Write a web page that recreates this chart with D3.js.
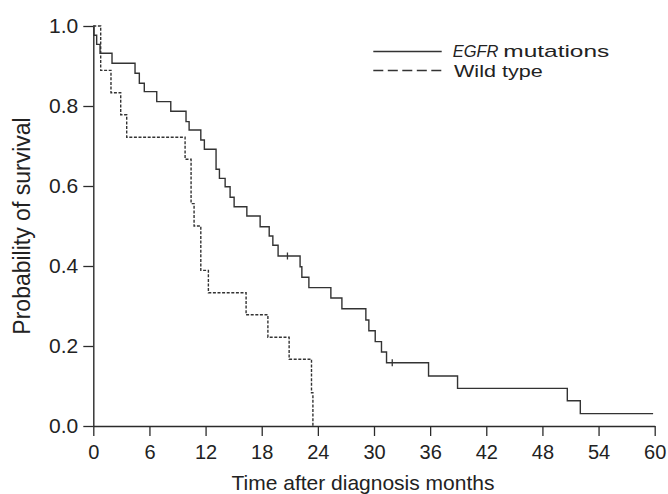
<!DOCTYPE html>
<html>
<head>
<meta charset="utf-8">
<script src="https://cdn.jsdelivr.net/npm/d3@7"></script>
<style>
  html, body { margin: 0; padding: 0; background: #fff; }
  svg { display: block; }
  text { font-family: "Liberation Sans", Arial, Helvetica, sans-serif; fill: #222; }
</style>
</head>
<body>
<svg id="chart" width="668" height="494"></svg>
<script>
// ---- data ----
const xTicks = [0, 6, 12, 18, 24, 30, 36, 42, 48, 54, 60];
const yTicks = [0, 0.2, 0.4, 0.6, 0.8, 1.0];

const egfrTimes = [0, 0.07, 0.36, 0.72, 2.0, 4.46, 4.92, 5.45, 6.78, 8.28, 9.91, 10.24, 11.49, 11.87, 13.12, 13.48, 14.09, 14.62, 15.05, 16.41, 17.83, 18.8, 19.19, 19.75, 22.1, 22.29, 23.04, 25.39, 26.57, 29.13, 29.45, 30.13, 30.8, 31.34, 35.83, 38.93, 50.66, 52.05, 59.83];
const egfrSurv  = [1.0, 0.977, 0.954, 0.932, 0.907, 0.882, 0.857, 0.836, 0.811, 0.787, 0.761, 0.74, 0.715, 0.692, 0.642, 0.619, 0.598, 0.572, 0.548, 0.525, 0.498, 0.475, 0.452, 0.425, 0.398, 0.372, 0.346, 0.32, 0.293, 0.265, 0.238, 0.211, 0.185, 0.158, 0.125, 0.094, 0.063, 0.031, 0.031];
const egfrCensorTimes = [20.75, 31.95];
const egfrCensorSurv  = [0.425, 0.158];

const wildTimes = [0, 0.79, 1.89, 2.93, 3.57, 9.81, 10.45, 10.77, 11.49, 12.3, 16.33, 18.66, 20.93, 23.32, 23.47];
const wildSurv  = [1.0, 0.889, 0.833, 0.778, 0.722, 0.667, 0.556, 0.5, 0.389, 0.333, 0.278, 0.222, 0.167, 0.083, 0];

const seriesNames = ["EGFR", "mutations", "Wild type"];
const xTitle = "Time after diagnosis months";
const yTitle = "Probability of survival";

// ---- layout ----
const svg = d3.select("#chart");
const x = d3.scaleLinear().domain([0, 60]).range([93.3, 654.7]);
const y = d3.scaleLinear().domain([0, 1]).range([426, 26]);

const ink = "#2b2b2b";

// axes
const gx = svg.append("g").attr("transform", `translate(0,${y(0)})`)
  .call(d3.axisBottom(x).tickValues(xTicks).tickFormat(d3.format("d"))
        .tickSize(10).tickSizeOuter(0).tickPadding(9));
const gy = svg.append("g").attr("transform", `translate(${x(0)},0)`)
  .call(d3.axisLeft(y).tickValues(yTicks).tickFormat(d3.format(".1f"))
        .tickSize(10).tickSizeOuter(0).tickPadding(5));
[gx, gy].forEach(g => {
  g.selectAll("path.domain").attr("stroke", ink).attr("stroke-width", 1.4);
  g.selectAll(".tick line").attr("stroke", ink).attr("stroke-width", 1.3);
  g.selectAll(".tick text").attr("fill", "#222")
    .attr("font-family", "'Liberation Sans', Arial, sans-serif");
});
gx.selectAll(".tick text").attr("font-size", 20);
gy.selectAll(".tick text").attr("font-size", 21);

// curves
const line = d3.line().x(d => x(d[0])).y(d => y(d[1])).curve(d3.curveStepAfter);
const egfr = egfrTimes.map((t, i) => [t, egfrSurv[i]]);
const wild = wildTimes.map((t, i) => [t, wildSurv[i]]);

svg.append("path").datum(wild).attr("d", line)
  .attr("fill", "none").attr("stroke", "#333").attr("stroke-width", 1.4)
  .attr("stroke-dasharray", "3,1.6");
svg.append("path").datum(egfr).attr("d", line)
  .attr("fill", "none").attr("stroke", "#333").attr("stroke-width", 1.4);

// censor marks
svg.selectAll("line.censor").data(egfrCensorTimes.map((t, i) => [t, egfrCensorSurv[i]]))
  .enter().append("line").attr("class", "censor")
  .attr("x1", d => x(d[0])).attr("x2", d => x(d[0]))
  .attr("y1", d => y(d[1]) - 3.5).attr("y2", d => y(d[1]) + 3.5)
  .attr("stroke", "#333").attr("stroke-width", 1.3);

// titles
svg.append("text").attr("x", 363).attr("y", 490).attr("text-anchor", "middle")
  .attr("font-size", 21).text(xTitle);
svg.append("text").attr("transform", `translate(30,${(y(0) + y(1)) / 2}) rotate(-90)`)
  .attr("text-anchor", "middle").attr("font-size", 23).text(yTitle);

// legend
const lg = svg.append("g");
lg.append("line").attr("x1", 373.3).attr("x2", 441.7).attr("y1", 51.5).attr("y2", 51.5)
  .attr("stroke", "#333").attr("stroke-width", 1.4);
lg.append("line").attr("x1", 373.3).attr("x2", 441.7).attr("y1", 70.5).attr("y2", 70.5)
  .attr("stroke", "#333").attr("stroke-width", 1.4).attr("stroke-dasharray", "10,4.5");
lg.append("text").attr("x", 452.7).attr("y", 56.5).attr("font-size", 17)
  .attr("font-style", "italic")
  .attr("textLength", 45.7).attr("lengthAdjust", "spacingAndGlyphs").text(seriesNames[0]);
lg.append("text").attr("x", 503.3).attr("y", 56.5).attr("font-size", 17)
  .attr("textLength", 106).attr("lengthAdjust", "spacingAndGlyphs").text(seriesNames[1]);
lg.append("text").attr("x", 454).attr("y", 77).attr("font-size", 17)
  .attr("textLength", 88.7).attr("lengthAdjust", "spacingAndGlyphs").text(seriesNames[2]);
</script>
</body>
</html>
